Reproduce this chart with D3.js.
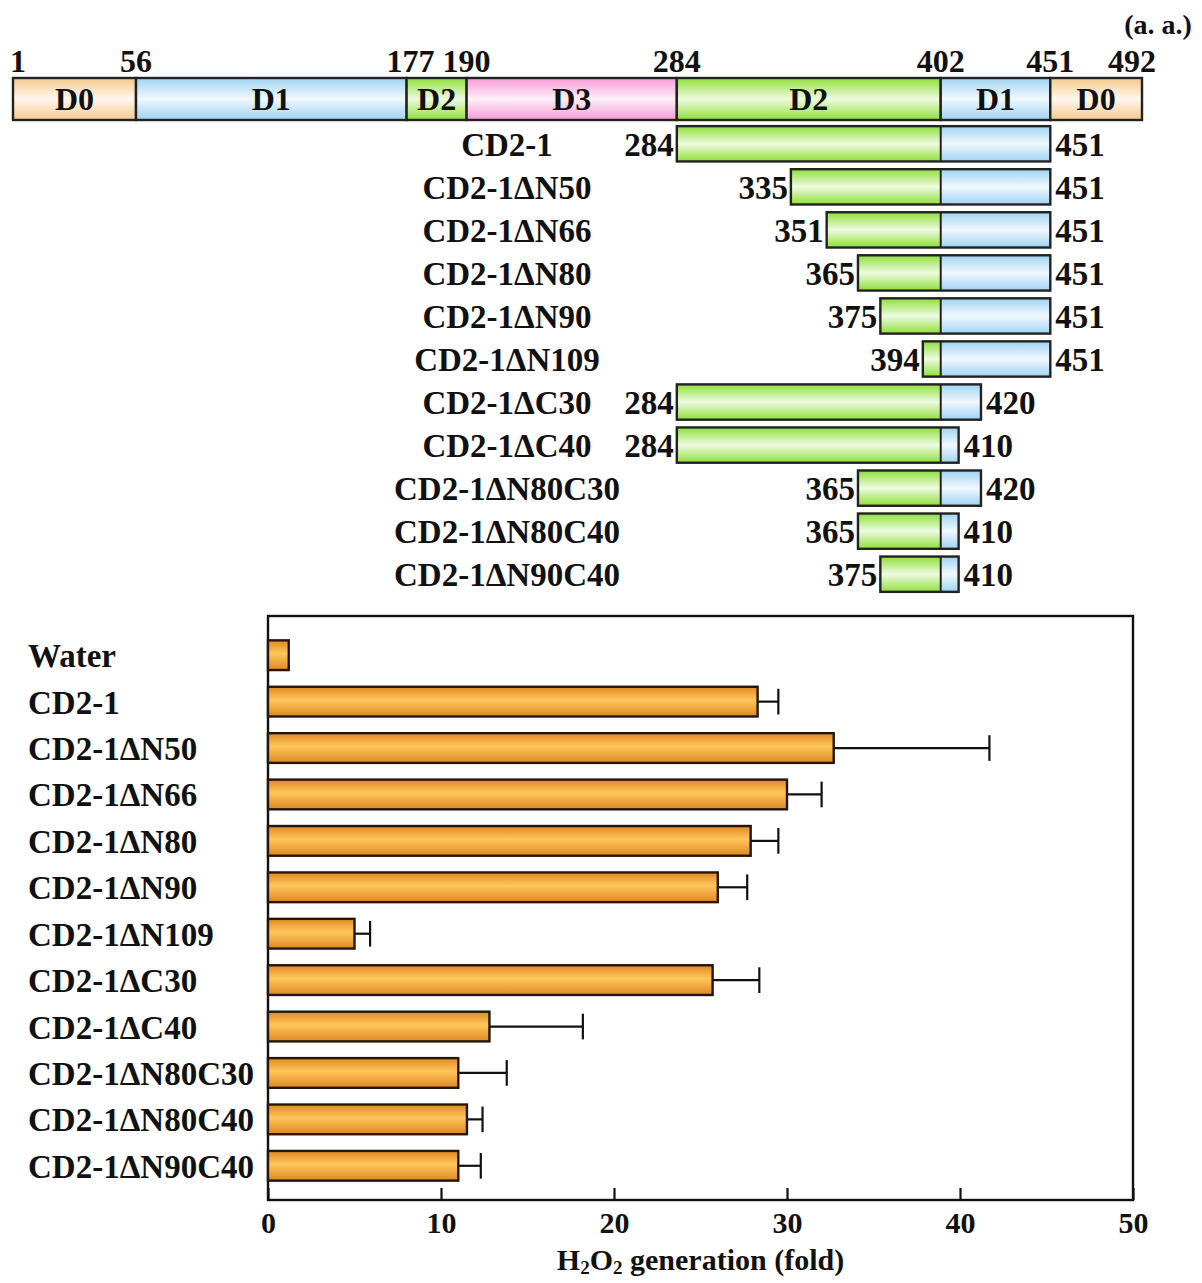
<!DOCTYPE html>
<html lang="en">
<head>
    <meta charset="UTF-8">
    <title>CD2-1 deletion constructs and H2O2 generation</title>
    <script src="https://d3js.org/d3.v7.min.js"></script>
    <style>
        body {
            margin: 0;
            padding: 0;
            background: #fff;
        }

        svg text {
            font-family: "Liberation Serif", "Times New Roman", serif;
            font-weight: bold;
            fill: #111;
        }
    </style>
</head>
<body>
<svg id="chart" width="1202" height="1283" xmlns="http://www.w3.org/2000/svg">
    <defs></defs>
</svg>
<script>
    // domain map (amino acid boundaries)
    var domainBounds = [1, 56, 177, 190, 284, 402, 451, 492];
    var domainNames = ['D0', 'D1', 'D2', 'D3', 'D2', 'D1', 'D0'];

    // truncation constructs
    var constructNames = ['CD2-1', 'CD2-1\u0394N50', 'CD2-1\u0394N66', 'CD2-1\u0394N80', 'CD2-1\u0394N90',
        'CD2-1\u0394N109', 'CD2-1\u0394C30', 'CD2-1\u0394C40', 'CD2-1\u0394N80C30', 'CD2-1\u0394N80C40',
        'CD2-1\u0394N90C40'];
    var constructStart = [284, 335, 351, 365, 375, 394, 284, 284, 365, 365, 375];
    var constructEnd = [451, 451, 451, 451, 451, 451, 420, 410, 420, 410, 410];
    var d2d1Border = 402;

    // H2O2 generation assay
    var sampleNames = ['Water'].concat(constructNames);
    var h2o2Fold = [1.2, 28.3, 32.7, 30.0, 27.9, 26.0, 5.0, 25.7, 12.8, 11.0, 11.5, 11.0];
    var h2o2Err = [0, 1.2, 9.0, 2.0, 1.6, 1.7, 0.9, 2.7, 5.4, 2.8, 0.9, 1.3];
    var xTicks = [0, 10, 20, 30, 40, 50];

    var domainColor = {D0: '#f6c98c', D1: '#9fd3f2', D2: '#8fe03a', D3: '#f59ad6'};

    var svg = d3.select('#chart');
    var defs = svg.select('defs');

    // gradients: coloured edges, pale centre (like the original artwork)
    Object.keys(domainColor).forEach(function (k) {
        var g = defs.append('linearGradient').attr('id', 'g' + k)
            .attr('x1', 0).attr('y1', 0).attr('x2', 0).attr('y2', 1);
        g.append('stop').attr('offset', '0%').attr('stop-color', domainColor[k]);
        g.append('stop').attr('offset', '50%').attr('stop-color', d3.interpolateRgb(domainColor[k], '#fff')(0.85));
        g.append('stop').attr('offset', '100%').attr('stop-color', domainColor[k]);
    });
    var og = defs.append('linearGradient').attr('id', 'gBar')
        .attr('x1', 0).attr('y1', 0).attr('x2', 0).attr('y2', 1);
    og.append('stop').attr('offset', '0%').attr('stop-color', '#e08a22');
    og.append('stop').attr('offset', '45%').attr('stop-color', '#ffc65c');
    og.append('stop').attr('offset', '100%').attr('stop-color', '#de8820');

    // ---------- domain map ----------
    // piecewise scale: proportional widths but a minimum width for very short domains
    var mapLeft = 13, mapRight = 1142, minW = 60;
    var lens = d3.pairs(domainBounds).map(function (p) { return p[1] - p[0]; });
    var nSmall = 0, bigLen = 0;
    lens.forEach(function (l) { if (l < 20) nSmall++; else bigLen += l; });
    var k = (mapRight - mapLeft - nSmall * minW) / bigLen;
    var rangeStops = [mapLeft];
    lens.forEach(function (l) { rangeStops.push(rangeStops[rangeStops.length - 1] + (l < 20 ? minW : l * k)); });
    var aa = d3.scaleLinear().domain(domainBounds).range(rangeStops);

    var mapTop = 78, mapH = 42;
    var domains = d3.pairs(domainBounds).map(function (p, i) {
        return {start: p[0], end: p[1], name: domainNames[i]};
    });
    var dg = svg.append('g');
    dg.selectAll('rect').data(domains).join('rect')
        .attr('x', function (d) { return aa(d.start); })
        .attr('y', mapTop)
        .attr('width', function (d) { return aa(d.end) - aa(d.start); })
        .attr('height', mapH)
        .attr('fill', function (d) { return 'url(#g' + d.name + ')'; })
        .attr('stroke', '#222').attr('stroke-width', 2.4);
    dg.selectAll('text.dn').data(domains).join('text').attr('class', 'dn')
        .attr('x', function (d) { return (aa(d.start) + aa(d.end)) / 2; })
        .attr('y', mapTop + mapH / 2 + 11)
        .attr('text-anchor', 'middle').attr('font-size', 32)
        .text(function (d) { return d.name; });
    dg.selectAll('text.bn').data(domainBounds).join('text').attr('class', 'bn')
        .attr('x', function (d, i) { return i === 0 ? aa(d) - 3 : aa(d) + (i === 2 ? 4 : 0) - (i === domainBounds.length - 1 ? 10 : 0); })
        .attr('y', 72)
        .attr('text-anchor', function (d, i) { return i === 0 ? 'start' : 'middle'; })
        .attr('font-size', 32)
        .text(function (d) { return d; });
    svg.append('text').attr('x', 1158).attr('y', 34).attr('text-anchor', 'middle')
        .attr('font-size', 28).text('(a. a.)');

    // ---------- constructs ----------
    var cy = d3.scaleBand().domain(constructNames).range([124, 594]).paddingInner(0.18).paddingOuter(0.05);
    var cData = constructNames.map(function (n, i) {
        return {name: n, start: constructStart[i], end: constructEnd[i]};
    });
    var cg = svg.append('g').selectAll('g').data(cData).join('g')
        .attr('transform', function (d) { return 'translate(0,' + cy(d.name) + ')'; });
    var bh = cy.bandwidth();
    cg.append('rect')
        .attr('x', function (d) { return aa(d.start); })
        .attr('width', function (d) { return aa(Math.min(d2d1Border, d.end)) - aa(d.start); })
        .attr('height', bh).attr('fill', 'url(#gD2)');
    cg.append('rect')
        .attr('x', aa(d2d1Border))
        .attr('width', function (d) { return aa(d.end) - aa(d2d1Border); })
        .attr('height', bh).attr('fill', 'url(#gD1)');
    cg.append('rect')
        .attr('x', function (d) { return aa(d.start); })
        .attr('width', function (d) { return aa(d.end) - aa(d.start); })
        .attr('height', bh).attr('fill', 'none').attr('stroke', '#222').attr('stroke-width', 2.4);
    cg.append('line')
        .attr('x1', aa(d2d1Border)).attr('x2', aa(d2d1Border))
        .attr('y1', 0).attr('y2', bh).attr('stroke', '#222').attr('stroke-width', 2);
    cg.append('text')
        .attr('x', function (d) { return aa(d.start) - 3; })
        .attr('y', bh / 2 + 12).attr('text-anchor', 'end').attr('font-size', 33)
        .text(function (d) { return d.start; });
    cg.append('text')
        .attr('x', function (d) { return aa(d.end) + 5; })
        .attr('y', bh / 2 + 12).attr('font-size', 33)
        .text(function (d) { return d.end; });
    cg.append('text')
        .attr('x', 507)
        .attr('y', bh / 2 + 12).attr('text-anchor', 'middle').attr('font-size', 33)
        .text(function (d) { return d.name; });

    // ---------- bar chart ----------
    var plot = {left: 268, right: 1133, top: 616, bottom: 1200};
    var x = d3.scaleLinear().domain([0, 50]).range([plot.left, plot.right]);
    var y = d3.scaleBand().domain(sampleNames).range([632, 1189]).paddingInner(0.36).paddingOuter(0.18);
    var bars = sampleNames.map(function (n, i) {
        return {name: n, value: h2o2Fold[i], err: h2o2Err[i]};
    });

    var bg = svg.append('g');
    bg.append('rect')
        .attr('x', plot.left).attr('y', plot.top)
        .attr('width', plot.right - plot.left).attr('height', plot.bottom - plot.top)
        .attr('fill', 'none').attr('stroke', '#111').attr('stroke-width', 2.4);

    var eb = bg.selectAll('g.err').data(bars.filter(function (d) { return d.err > 0; })).join('g').attr('class', 'err')
        .attr('stroke', '#111').attr('stroke-width', 2.2);
    eb.append('line')
        .attr('x1', function (d) { return x(d.value); })
        .attr('x2', function (d) { return x(d.value + d.err); })
        .attr('y1', function (d) { return y(d.name) + y.bandwidth() / 2; })
        .attr('y2', function (d) { return y(d.name) + y.bandwidth() / 2; });
    eb.append('line')
        .attr('x1', function (d) { return x(d.value + d.err); })
        .attr('x2', function (d) { return x(d.value + d.err); })
        .attr('y1', function (d) { return y(d.name) + 2; })
        .attr('y2', function (d) { return y(d.name) + y.bandwidth() - 2; });

    bg.selectAll('rect.bar').data(bars).join('rect').attr('class', 'bar')
        .attr('x', x(0))
        .attr('y', function (d) { return y(d.name); })
        .attr('width', function (d) { return x(d.value) - x(0); })
        .attr('height', y.bandwidth())
        .attr('fill', 'url(#gBar)')
        .attr('stroke', '#24160a').attr('stroke-width', 2.4);

    bg.selectAll('text.lab').data(bars).join('text').attr('class', 'lab')
        .attr('x', 28)
        .attr('y', function (d) { return y(d.name) + y.bandwidth() / 2 + 12; })
        .attr('font-size', 33)
        .text(function (d) { return d.name; });

    var xAxis = d3.axisBottom(x).tickValues(xTicks).tickSizeInner(-12).tickSizeOuter(0).tickPadding(12);
    var ax = bg.append('g').attr('transform', 'translate(0,' + plot.bottom + ')').call(xAxis);
    ax.select('.domain').remove();
    ax.selectAll('.tick line').attr('stroke', '#111').attr('stroke-width', 2.2);
    ax.selectAll('.tick text').attr('font-size', 30).attr('font-family', null).attr('fill', '#111');

    var title = bg.append('text').attr('x', x(25)).attr('y', 1270)
        .attr('text-anchor', 'middle').attr('font-size', 30);
    title.append('tspan').text('H');
    title.append('tspan').attr('font-size', 19).attr('dy', 4).text('2');
    title.append('tspan').attr('dy', -4).text('O');
    title.append('tspan').attr('font-size', 19).attr('dy', 4).text('2');
    title.append('tspan').attr('dy', -4).text(' generation (fold)');
</script>
</body>
</html>
